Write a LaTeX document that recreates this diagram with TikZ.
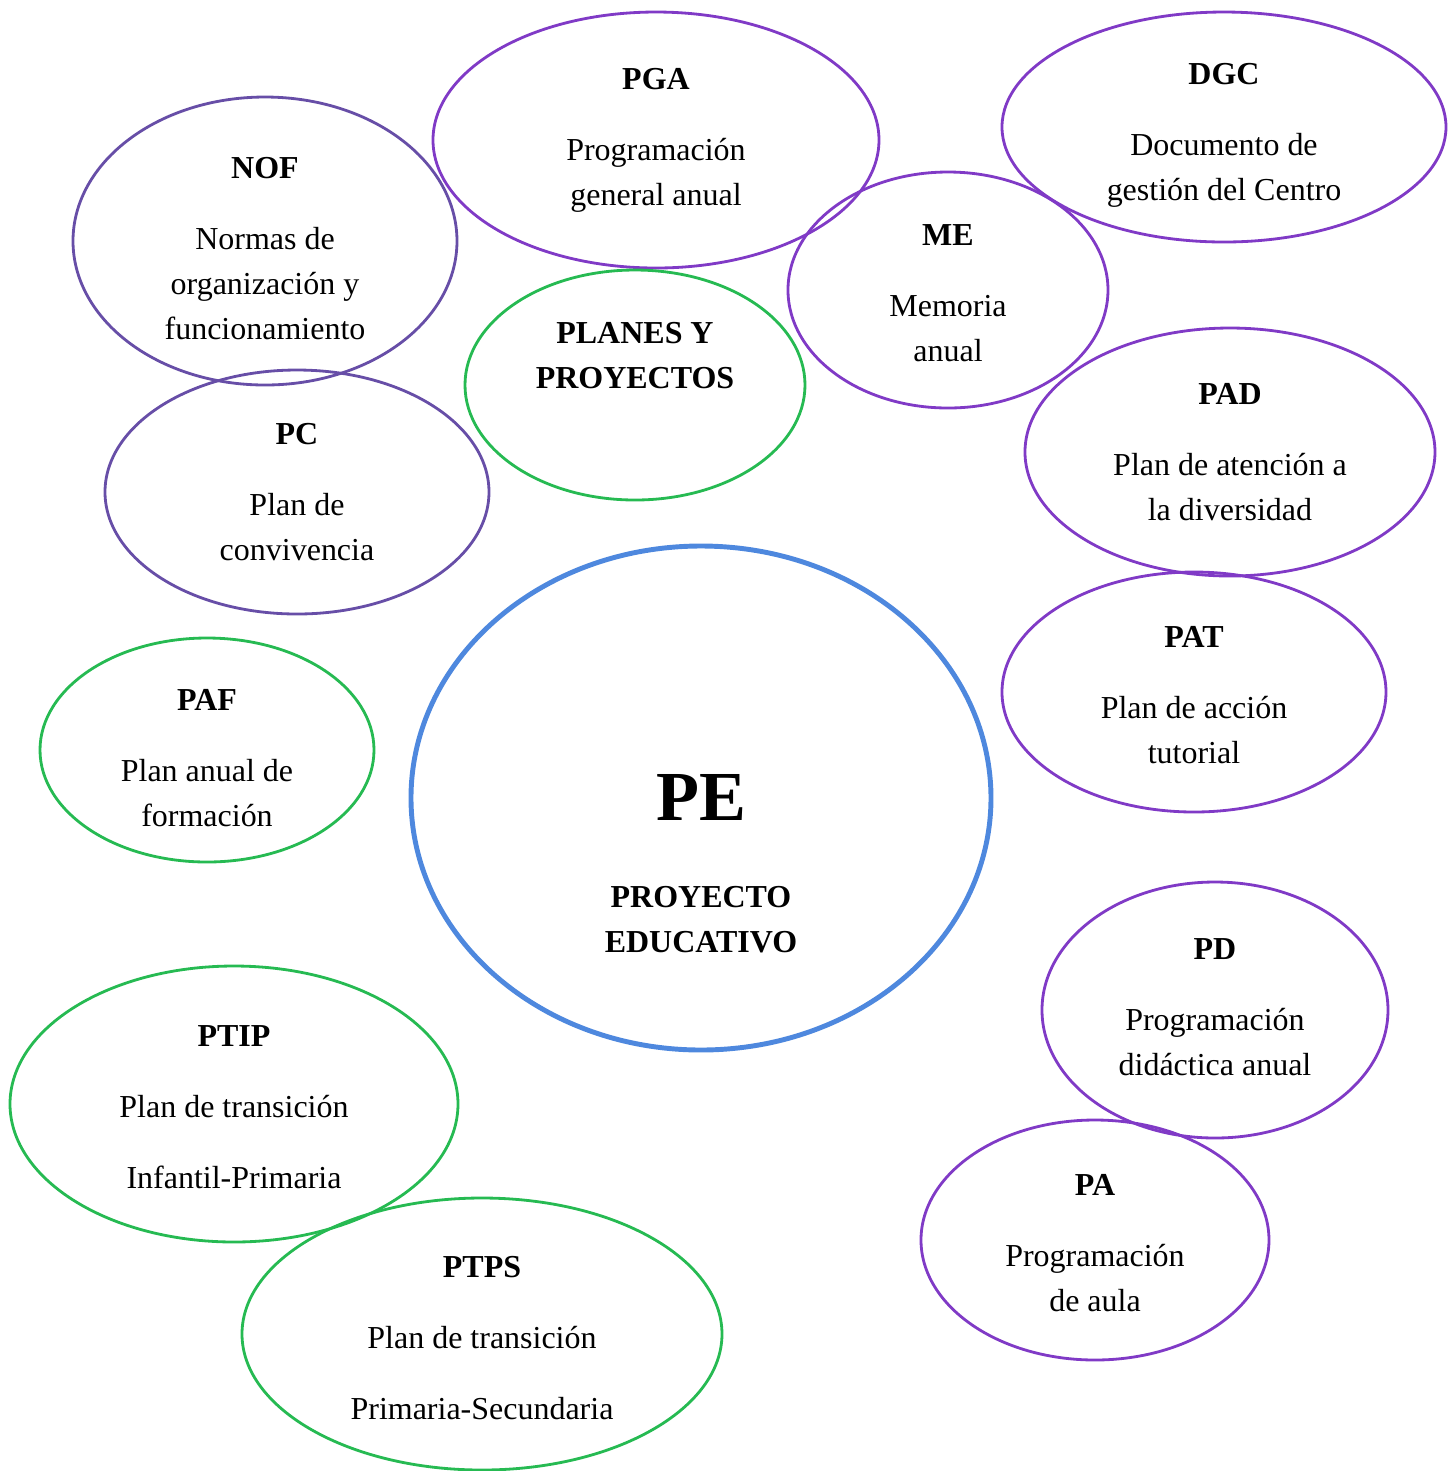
\documentclass[tikz,border=0pt]{standalone}
\usepackage{fontspec}
\setmainfont{Liberation Serif}
\usetikzlibrary{shapes.geometric}
\definecolor{ppdark}{RGB}{103,78,167}
\definecolor{pplight}{RGB}{128,58,198}
\definecolor{ggreen}{RGB}{38,186,82}
\definecolor{bblue}{RGB}{78,136,222}

\begin{document}
\begin{tikzpicture}[
    bubble/.style={ellipse, draw, line width=0.8pt, inner sep=0pt},
    txt/.style={inner sep=0pt, align=center, font=\fontsize{9.1}{12.8}\selectfont}]
    \useasboundingbox (0,0) rectangle (14.56,-14.71);
    \node[bubble, draw=ppdark, minimum width=3.84cm, minimum height=2.88cm] (nof) at (2.65,-2.41) {};
    \node[txt] (nof-t) at ([yshift=-0.8mm]nof.center)
        {\textbf{NOF}\\[7.4pt]Normas de\\organización y\\funcionamiento};
    \node[bubble, draw=pplight, minimum width=4.46cm, minimum height=2.56cm] (pga) at (6.56,-1.40) {};
    \node[txt] (pga-t) at (pga.center) {\textbf{PGA}\\[7.4pt]Programación\\general anual};
    \node[bubble, draw=pplight, minimum width=4.44cm, minimum height=2.30cm] (dgc) at (12.24,-1.27) {};
    \node[txt] (dgc-t) at ([yshift=-0.8mm]dgc.center) {\textbf{DGC}\\[7.4pt]Documento de\\gestión del Centro};
    \node[bubble, draw=pplight, minimum width=3.20cm, minimum height=2.36cm] (me) at (9.48,-2.90) {};
    \node[txt] (me-t) at ([yshift=-0.3mm]me.center) {\textbf{ME}\\[7.4pt]Memoria\\anual};
    \node[bubble, draw=ggreen, minimum width=3.40cm, minimum height=2.30cm] (planes) at (6.35,-3.85) {};
    \node[txt] (planes-t) at (6.35,-3.555) {\textbf{PLANES Y}\\\textbf{PROYECTOS}};
    \node[bubble, draw=ppdark, minimum width=3.84cm, minimum height=2.44cm] (pc) at (2.97,-4.92) {};
    \node[txt] (pc-t) at (pc.center) {\textbf{PC}\\[7.4pt]Plan de\\convivencia};
    \node[bubble, draw=pplight, minimum width=4.10cm, minimum height=2.48cm] (pad) at (12.30,-4.52) {};
    \node[txt] (pad-t) at (pad.center) {\textbf{PAD}\\[7.4pt]Plan de atención a\\la diversidad};
    \node[bubble, draw=pplight, minimum width=3.84cm, minimum height=2.40cm] (pat) at (11.94,-6.92) {};
    \node[txt] (pat-t) at ([yshift=-0.3mm]pat.center) {\textbf{PAT}\\[7.4pt]Plan de acción\\tutorial};
    \node[bubble, draw=ggreen, minimum width=3.34cm, minimum height=2.24cm] (paf) at (2.07,-7.50) {};
    \node[txt] (paf-t) at ([yshift=-0.8mm]paf.center) {\textbf{PAF}\\[7.4pt]Plan anual de\\formación};
    \node[bubble, draw=bblue, line width=1.4pt, minimum width=5.80cm, minimum height=5.04cm] (pe) at (7.01,-7.98) {};
    \node[txt, font=\fontsize{20}{24}\selectfont\bfseries] (pe-t) at (7.01,-7.97) {PE};
    \node[txt] (pe-s) at (7.01,-9.195) {\textbf{PROYECTO}\\\textbf{EDUCATIVO}};
    \node[bubble, draw=pplight, minimum width=3.46cm, minimum height=2.56cm] (pd) at (12.15,-10.10) {};
    \node[txt] (pd-t) at ([yshift=0.3mm]pd.center) {\textbf{PD}\\[7.4pt]Programación\\didáctica anual};
    \node[bubble, draw=pplight, minimum width=3.48cm, minimum height=2.40cm] (pa) at (10.95,-12.40) {};
    \node[txt] (pa-t) at ([yshift=-0.3mm]pa.center) {\textbf{PA}\\[7.4pt]Programación\\de aula};
    \node[bubble, draw=ggreen, minimum width=4.48cm, minimum height=2.76cm] (ptip) at (2.34,-11.04) {};
    \node[txt] (ptip-t) at ([yshift=-0.3mm]ptip.center)
        {\textbf{PTIP}\\[7.4pt]Plan de transición\\[7.4pt]Infantil-Primaria};
    \node[bubble, draw=ggreen, minimum width=4.80cm, minimum height=2.72cm] (ptps) at (4.82,-13.34) {};
    \node[txt] (ptps-t) at ([yshift=-0.4mm]ptps.center)
        {\textbf{PTPS}\\[7.4pt]Plan de transición\\[7.4pt]Primaria-Secundaria};
\end{tikzpicture}
\end{document}
